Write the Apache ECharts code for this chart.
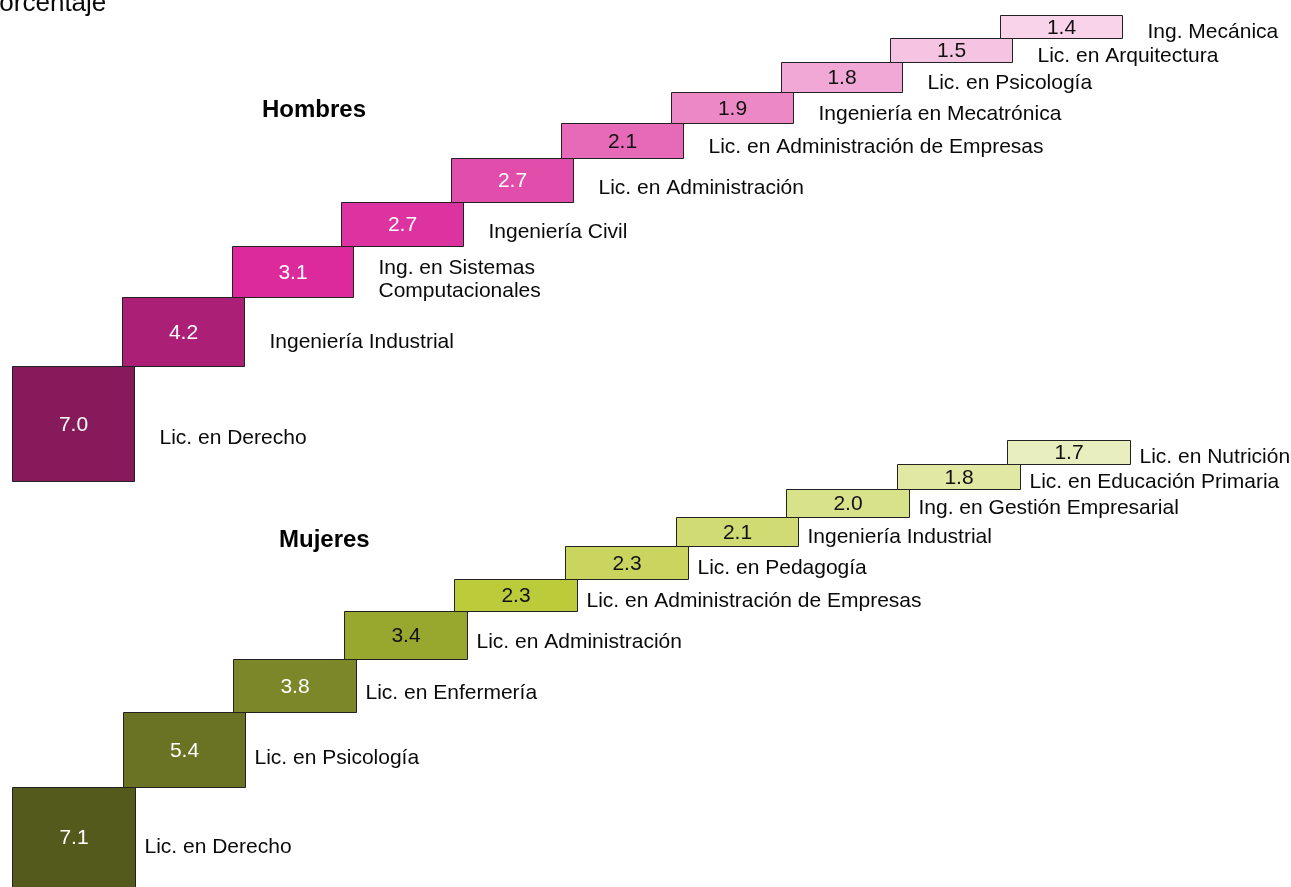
<!DOCTYPE html>
<html>
<head>
<meta charset="utf-8">
<script src="https://cdn.jsdelivr.net/npm/echarts@6/dist/echarts.min.js"></script>
<style>
html,body{margin:0;padding:0;background:#fff;}
#chart{width:1291px;height:887px;}
</style>
</head>
<body>
<div id="chart"></div>
<script>
// ---- Data ----
const hombresCategorias = [
  'Lic. en Derecho', 'Ingeniería Industrial', 'Ing. en Sistemas\nComputacionales',
  'Ingeniería Civil', 'Lic. en Administración', 'Lic. en Administración de Empresas',
  'Ingeniería en Mecatrónica', 'Lic. en Psicología', 'Lic. en Arquitectura', 'Ing. Mecánica'
];
const hombresValores = [7.0, 4.2, 3.1, 2.7, 2.7, 2.1, 1.9, 1.8, 1.5, 1.4];

const mujeresCategorias = [
  'Lic. en Derecho', 'Lic. en Psicología', 'Lic. en Enfermería', 'Lic. en Administración',
  'Lic. en Administración de Empresas', 'Lic. en Pedagogía', 'Ingeniería Industrial',
  'Ing. en Gestión Empresarial', 'Lic. en Educación Primaria', 'Lic. en Nutrición'
];
const mujeresValores = [7.1, 5.4, 3.8, 3.4, 2.3, 2.3, 2.1, 2.0, 1.8, 1.7];

const tituloEje = 'Porcentaje';
const grupoHombres = 'Hombres';
const grupoMujeres = 'Mujeres';

// ---- Styles ----
const coloresHombres = ['#871A5B', '#AC1F77', '#DC2A9C', '#DD33A0', '#E14DAB', '#E66AB7', '#EC88C5', '#F1A8D6', '#F6C4E3', '#F9D3EA'];
const coloresMujeres = ['#545A1C', '#6A7223', '#7B8729', '#98A82F', '#BCCB3A', '#C9D55F', '#D0DB74', '#D8E28B', '#E0E8A3', '#E8EEBE'];
const blancosHombres = 5;  // first N boxes use white value text
const blancosMujeres = 3;
const BOX_W = 1.11;
const FONT = 'Liberation Sans, Arial, sans-serif';

function buildSteps(values) {
  const out = [];
  let acc = 0;
  values.forEach((v, i) => {
    out.push([i, acc, acc + v, v]);
    acc += v;
  });
  return out;
}

function makeRender(categories, colors, whiteCount, gap, dyBase, dyFactor) {
  return function (params, api) {
    const i = api.value(0);
    const p0 = api.coord([i, api.value(1)]);
    const p1 = api.coord([i + BOX_W, api.value(2)]);
    const x = Math.round(p0[0]) + 0.5;
    const yTop = Math.round(p1[1]) + 0.5;
    const w = Math.round(p1[0]) - Math.round(p0[0]);
    const h = Math.round(p0[1]) - Math.round(p1[1]);
    const val = api.value(3);
    return {
      type: 'group',
      children: [
        {
          type: 'rect',
          shape: { x: x, y: yTop, width: w, height: h },
          style: { fill: colors[i], stroke: '#222', lineWidth: 1 }
        },
        {
          type: 'text',
          x: x + w / 2,
          y: yTop + h / 2 + 1,
          style: {
            text: val.toFixed(1),
            fill: i < whiteCount ? '#ffffff' : '#111111',
            fontSize: 21, fontFamily: FONT,
            align: 'center', verticalAlign: 'middle'
          }
        },
        {
          type: 'text',
          x: x + w + gap,
          y: yTop + h / 2 + dyBase + dyFactor * h,
          style: {
            text: categories[i],
            fill: '#0a0a0a',
            fontSize: 21, fontFamily: FONT, lineHeight: 23,
            align: 'left', verticalAlign: 'middle'
          }
        }
      ]
    };
  };
}

const chart = echarts.init(document.getElementById('chart'), null, { renderer: 'canvas' });

chart.setOption({
  animation: false,
  backgroundColor: '#ffffff',
  grid: [
    { left: 12, width: 1207.8, top: 5, height: 475.9 },
    { left: 12, width: 1216.6, top: 424.5, height: 465.7 }
  ],
  xAxis: [
    { type: 'value', gridIndex: 0, min: 0, max: 11, show: false },
    { type: 'value', gridIndex: 1, min: 0, max: 11, show: false }
  ],
  yAxis: [
    { type: 'value', gridIndex: 0, min: 0, max: 29, show: false },
    { type: 'value', gridIndex: 1, min: 0, max: 33, show: false }
  ],
  graphic: [
    { type: 'text', left: -18, top: -9, style: { text: tituloEje, fontSize: 26, fontFamily: FONT, fill: '#0a0a0a' } },
    { type: 'text', x: 262, y: 110, style: { text: grupoHombres, fontSize: 24, fontWeight: 'bold', fontFamily: FONT, fill: '#000', verticalAlign: 'middle' } },
    { type: 'text', x: 279, y: 540, style: { text: grupoMujeres, fontSize: 24, fontWeight: 'bold', fontFamily: FONT, fill: '#000', verticalAlign: 'middle' } }
  ],
  series: [
    {
      type: 'custom', xAxisIndex: 0, yAxisIndex: 0, clip: false,
      renderItem: makeRender(hombresCategorias, coloresHombres, blancosHombres, 25, 3, 0.1),
      data: buildSteps(hombresValores)
    },
    {
      type: 'custom', xAxisIndex: 1, yAxisIndex: 1, clip: false,
      renderItem: makeRender(mujeresCategorias, coloresMujeres, blancosMujeres, 9, 3, 0.07),
      data: buildSteps(mujeresValores)
    }
  ]
});
</script>
</body>
</html>
